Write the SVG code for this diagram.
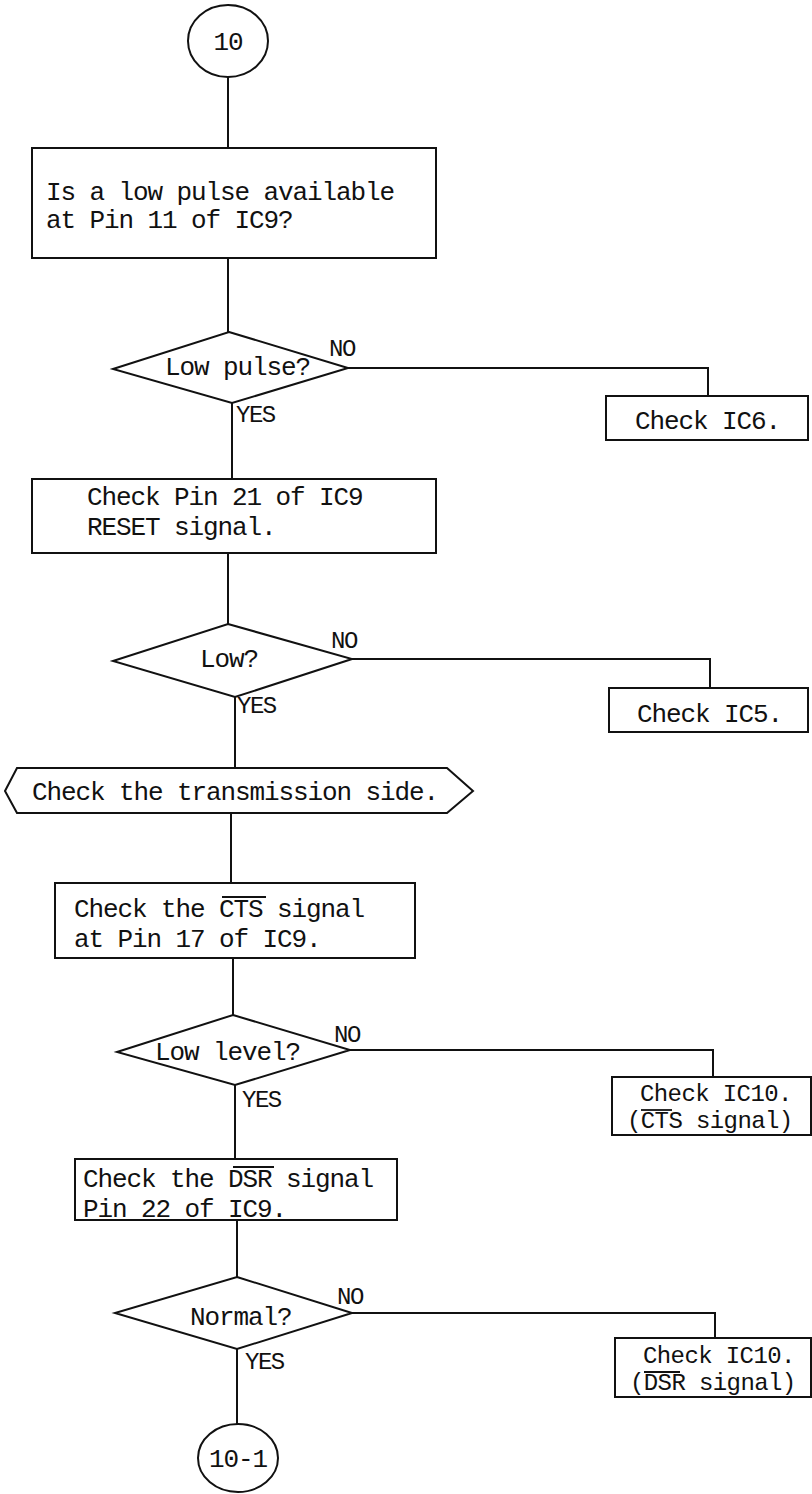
<svg xmlns="http://www.w3.org/2000/svg" width="812" height="1494" viewBox="0 0 812 1494">
<style>
.s{fill:#fff;stroke:#111;stroke-width:2}
.c{fill:none;stroke:#111;stroke-width:2}
text{font-family:"Liberation Mono","DejaVu Sans Mono",monospace;font-size:26px;letter-spacing:-1.1px;fill:#111}
.l{font-size:24px;letter-spacing:-1.5px}
.t{font-size:24px;letter-spacing:-0.6px}
.o{stroke:#111;stroke-width:1.8}
</style>
<rect width="812" height="1494" fill="#fff"/>
<g id="connectors">
<path class="c" d="M228,77 V148"/>
<path class="c" d="M228,258 V332"/>
<path class="c" d="M232,403 V479"/>
<path class="c" d="M348,368 H708 V396"/>
<path class="c" d="M228,553 V624"/>
<path class="c" d="M235,697 V768"/>
<path class="c" d="M352,659 H710 V688"/>
<path class="c" d="M231,813 V883"/>
<path class="c" d="M233,958 V1015"/>
<path class="c" d="M350,1050 H713 V1077"/>
<path class="c" d="M235,1085 V1159"/>
<path class="c" d="M237,1220 V1277"/>
<path class="c" d="M352,1313 H715 V1338"/>
<path class="c" d="M237,1349 V1424"/>
</g>
<g id="start">
<ellipse class="s" cx="228" cy="41" rx="40" ry="36"/>
<text x="228" y="50" text-anchor="middle">10</text>
</g>
<g id="box1">
<rect class="s" x="32" y="148" width="404" height="110"/>
<text x="46" y="200">Is a low pulse available</text>
<text x="46" y="228">at Pin 11 of IC9?</text>
</g>
<g id="dec1">
<polygon class="s" points="229,332 348,368 232,403 113,369"/>
<text x="165" y="375">Low pulse?</text>
<text class="l" x="329" y="356">NO</text>
<text class="l" x="236" y="422">YES</text>
</g>
<g id="ic6">
<rect class="s" x="606" y="396" width="202" height="44"/>
<text x="635" y="429">Check IC6.</text>
</g>
<g id="box2">
<rect class="s" x="32" y="479" width="404" height="74"/>
<text x="87" y="505">Check Pin 21 of IC9</text>
<text x="87" y="535">RESET signal.</text>
</g>
<g id="dec2">
<polygon class="s" points="228,624 352,659 235,697 113,661"/>
<text x="200" y="667">Low?</text>
<text class="l" x="331" y="648">NO</text>
<text class="l" x="237" y="713">YES</text>
</g>
<g id="ic5">
<rect class="s" x="609" y="688" width="199" height="44"/>
<text x="637" y="722">Check IC5.</text>
</g>
<g id="hex">
<path class="s" d="M5,791 L17,768 L447,768 L473,791 L447,813 L17,813 Z"/>
<text x="32" y="800">Check the transmission side.</text>
</g>
<g id="box3">
<rect class="s" x="55" y="883" width="360" height="75"/>
<text x="74" y="917">Check the CTS signal</text>
<line class="o" x1="222" y1="897" x2="266" y2="897"/>
<text x="74" y="947">at Pin 17 of IC9.</text>
</g>
<g id="dec3">
<polygon class="s" points="233,1015 350,1050 235,1085 117,1052"/>
<text x="155" y="1060">Low level?</text>
<text class="l" x="334" y="1042">NO</text>
<text class="l" x="242" y="1107">YES</text>
</g>
<g id="ic10cts">
<rect class="s" x="612" y="1077" width="199" height="58"/>
<text class="t" x="640" y="1101">Check IC10.</text>
<text class="t" x="627" y="1128">(CTS signal)</text>
<line class="o" x1="641" y1="1110" x2="672" y2="1110"/>
</g>
<g id="box4">
<rect class="s" x="75" y="1159" width="322" height="61"/>
<text x="83" y="1187">Check the DSR signal</text>
<line class="o" x1="233" y1="1167" x2="274" y2="1167"/>
<text x="83" y="1217">Pin 22 of IC9.</text>
</g>
<g id="dec4">
<polygon class="s" points="237,1277 352,1313 237,1349 115,1313"/>
<text x="190" y="1325">Normal?</text>
<text class="l" x="337" y="1304">NO</text>
<text class="l" x="245" y="1369">YES</text>
</g>
<g id="ic10dsr">
<rect class="s" x="615" y="1338" width="196" height="59"/>
<text class="t" x="643" y="1363">Check IC10.</text>
<text class="t" x="630" y="1390">(DSR signal)</text>
<line class="o" x1="644" y1="1372" x2="680" y2="1372"/>
</g>
<g id="end">
<ellipse class="s" cx="238" cy="1458" rx="40" ry="34"/>
<text x="238" y="1467" text-anchor="middle">10-1</text>
</g>
</svg>
